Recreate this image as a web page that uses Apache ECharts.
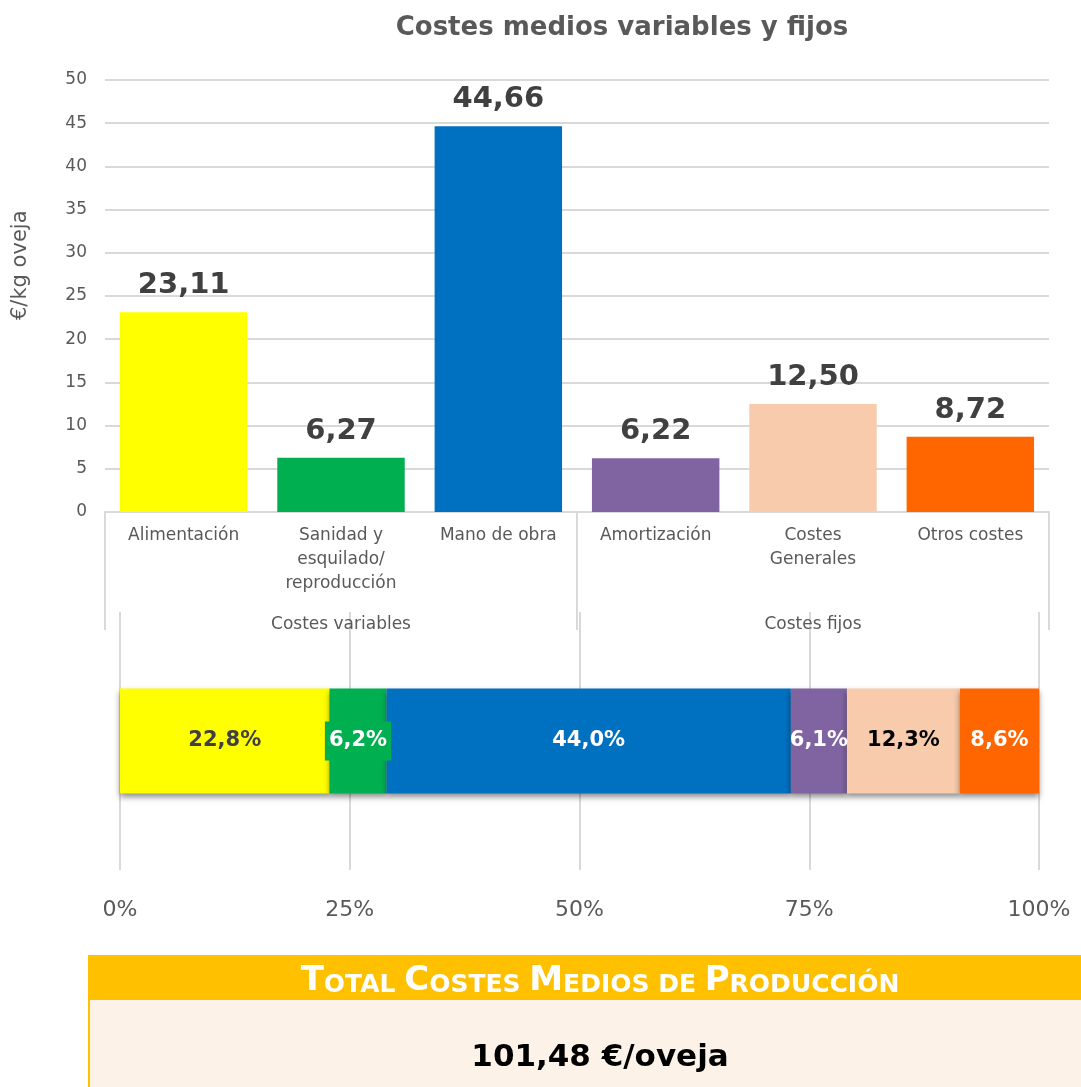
<!DOCTYPE html>
<html>
<head>
<meta charset="utf-8">
<script src="https://cdn.jsdelivr.net/npm/echarts@6/dist/echarts.min.js"></script>
<style>
html,body{margin:0;padding:0;background:#fff;}
#main{width:1081px;height:1087px;}
</style>
</head>
<body>
<div id="main"></div>
<script>
// ---- data ----
const categories = ['Alimentación', 'Sanidad y\nesquilado/\nreproducción', 'Mano de obra', 'Amortización', 'Costes\nGenerales', 'Otros costes'];
const groups = ['Costes variables', 'Costes fijos'];
const values = [23.11, 6.27, 44.66, 6.22, 12.50, 8.72];
const percents = [22.8, 6.2, 44.0, 6.1, 12.3, 8.6];
const yAxisName = '€/kg oveja';
const titleText = 'Costes medios variables y fijos';
const totalText = '101,48 €/oveja';

// ---- styles ----
const colors = ['#FFFF00', '#00B050', '#0070C0', '#8064A2', '#F8CBAD', '#FF6600'];
const pctLabelColors = ['#404040', '#ffffff', '#ffffff', '#ffffff', '#000000', '#ffffff'];
const FONT = 'DejaVu Sans';
const GREY = '#595959';

const chart = echarts.init(document.getElementById('main'), null, {renderer: 'canvas'});

const fmt2 = v => v.toFixed(2).replace('.', ',');
const fmt1 = v => v.toFixed(1).replace('.', ',') + '%';

const pctSeries = percents.map((p, i) => ({
  type: 'bar',
  name: categories[i],
  xAxisIndex: 2,
  yAxisIndex: 1,
  stack: 'pct',
  barWidth: 105,
  data: [p],
  itemStyle: {
    color: colors[i],
    shadowColor: 'rgba(0,0,0,0.45)',
    shadowBlur: 6,
    shadowOffsetY: 3
  },
  label: {
    show: true,
    position: 'inside',
    formatter: d => fmt1(d.value),
    color: pctLabelColors[i],
    fontFamily: FONT,
    fontWeight: 'bold',
    fontSize: 21,
    backgroundColor: i === 1 ? colors[1] : 'transparent',
    padding: i === 1 ? [9, 4] : 0
  },
  z: 3
}));

const option = {
  backgroundColor: '#ffffff',
  animation: false,
  title: {
    text: titleText,
    left: 617,
    top: 10,
    textAlign: 'center',
    textStyle: {fontFamily: FONT, fontSize: 26, fontWeight: 'bold', color: GREY}
  },
  grid: [
    {left: 105, right: 32, top: 80, bottom: 575, containLabel: false},
    {left: 120, right: 42, top: 612, bottom: 217, containLabel: false}
  ],
  xAxis: [
    {
      type: 'category',
      gridIndex: 0,
      data: categories,
      axisLine: {show: true, lineStyle: {color: '#d9d9d9', width: 2}},
      axisTick: {show: false},
      axisLabel: {
        interval: 0,
        margin: 12,
        fontFamily: FONT,
        fontSize: 17,
        color: GREY,
        lineHeight: 24
      }
    },
    {
      type: 'category',
      gridIndex: 0,
      position: 'bottom',
      data: groups,
      axisLine: {show: false},
      axisTick: {show: true, length: 118, inside: false, lineStyle: {color: '#d9d9d9', width: 2}},
      axisLabel: {
        interval: 0,
        margin: 104,
        fontFamily: FONT,
        fontSize: 17,
        color: GREY
      }
    },
    {
      type: 'value',
      gridIndex: 1,
      min: 0,
      max: 100,
      interval: 25,
      axisLine: {show: false},
      axisTick: {show: false},
      splitLine: {show: true, lineStyle: {color: '#d9d9d9', width: 2}},
      axisLabel: {
        formatter: '{value}%',
        margin: 29,
        fontFamily: FONT,
        fontSize: 22,
        color: GREY
      }
    }
  ],
  yAxis: [
    {
      type: 'value',
      gridIndex: 0,
      min: 0,
      max: 50,
      interval: 5,
      axisLine: {show: false},
      axisTick: {show: false},
      splitLine: {show: true, lineStyle: {color: '#d9d9d9', width: 2}},
      axisLabel: {margin: 18, fontFamily: FONT, fontSize: 17, color: GREY}
    },
    {
      type: 'category',
      gridIndex: 1,
      data: [''],
      show: false
    }
  ],
  series: [
    {
      type: 'bar',
      xAxisIndex: 0,
      yAxisIndex: 0,
      barCategoryGap: '19%',
      data: values.map((v, i) => ({value: v, itemStyle: {color: colors[i]}})),
      label: {
        show: true,
        position: 'top',
        distance: 12,
        formatter: d => fmt2(d.value),
        fontFamily: FONT,
        fontWeight: 'bold',
        fontSize: 29,
        color: '#404040'
      },
      z: 3
    },
    ...pctSeries
  ],
  graphic: [
    {
      type: 'text',
      rotation: Math.PI / 2,
      x: 10,
      y: 320,
      style: {text: yAxisName, fontFamily: FONT, fontSize: 21, fill: GREY, align: 'left', verticalAlign: 'top'}
    },
    {
      type: 'rect',
      shape: {x: 88, y: 955, width: 993, height: 45},
      style: {fill: '#FFC000'},
      z: 1
    },
    {
      type: 'rect',
      shape: {x: 88, y: 1000, width: 993, height: 87},
      style: {fill: '#FDF2E7'},
      z: 1
    },
    {
      type: 'line',
      shape: {x1: 89, y1: 1000, x2: 89, y2: 1087},
      style: {stroke: '#FFC000', lineWidth: 2},
      z: 2
    },
    {
      type: 'text',
      x: 600, y: 981,
      style: {
        text: '{b|T}{s|OTAL }{b|C}{s|OSTES }{b|M}{s|EDIOS DE }{b|P}{s|RODUCCIÓN}',
        align: 'center',
        verticalAlign: 'middle',
        rich: {
          b: {fontFamily: FONT, fontWeight: 'bold', fontSize: 34, fill: '#ffffff', verticalAlign: 'bottom'},
          s: {fontFamily: FONT, fontWeight: 'bold', fontSize: 25, fill: '#ffffff', verticalAlign: 'bottom'}
        }
      },
      z: 5
    },
    {
      type: 'text',
      x: 600, y: 1058,
      style: {
        text: totalText,
        align: 'center',
        verticalAlign: 'middle',
        fontFamily: FONT,
        fontWeight: 'bold',
        fontSize: 31,
        fill: '#000000'
      },
      z: 5
    }
  ]
};

chart.setOption(option);
</script>
</body>
</html>
